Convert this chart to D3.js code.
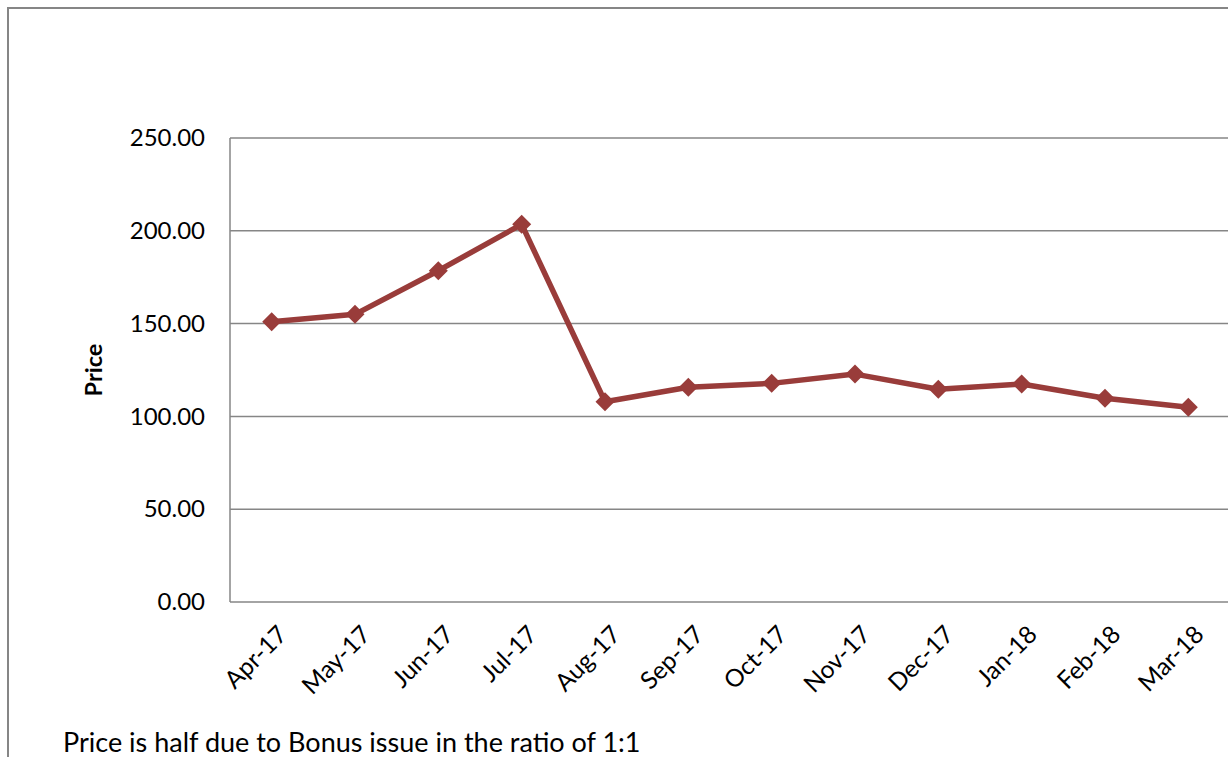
<!DOCTYPE html>
<html>
<head>
<meta charset="utf-8">
<script src="https://cdn.jsdelivr.net/npm/d3@7"></script>
<style>
  body { margin: 0; background: #fff; }
  svg { display: block; font-family: Lato, "Open Sans", sans-serif; }
</style>
</head>
<body>
<svg id="chart" width="1228" height="757"></svg>
<script>
// data
const months = ["Apr-17", "May-17", "Jun-17", "Jul-17", "Aug-17", "Sep-17",
  "Oct-17", "Nov-17", "Dec-17", "Jan-18", "Feb-18", "Mar-18"];
const prices = [151.0, 155.0, 178.5, 203.5, 107.9, 115.7,
  117.8, 122.8, 114.6, 117.5, 109.8, 104.9];
const yTicks = [0, 50, 100, 150, 200, 250];
const note = "Price is half due to Bonus issue in the ratio of 1:1";

const svg = d3.select("#chart");
const grey = "#868686";
const red = "#993c3a";
const font = "Lato, 'Open Sans', sans-serif";

// outer frame (only top and left show)
svg.append("path")
  .attr("d", "M8,757 L8,8 L1228,8")
  .attr("fill", "none")
  .attr("stroke", grey)
  .attr("stroke-width", 2);

let plot = { left: 230, top: 138, right: 1230, bottom: 602 };

let x = d3.scaleBand()
  .domain(months)
  .range([plot.left, plot.right]);

let y = d3.scaleLinear()
  .domain([0, 250])
  .range([plot.bottom, plot.top]);

// gridlines
svg.append("g")
  .selectAll("line")
  .data(yTicks)
  .join("line")
  .attr("x1", plot.left)
  .attr("x2", plot.right)
  .attr("y1", d => y(d))
  .attr("y2", d => y(d))
  .attr("stroke", grey)
  .attr("stroke-width", 1.5);

// y axis line
svg.append("line")
  .attr("x1", plot.left).attr("x2", plot.left)
  .attr("y1", plot.top).attr("y2", plot.bottom)
  .attr("stroke", grey)
  .attr("stroke-width", 1.5);

// y tick labels
let yAxis = d3.axisLeft(y).tickValues(yTicks).tickFormat(d3.format(".2f")).tickSize(0).tickPadding(25);
let gy = svg.append("g").attr("transform", "translate(" + plot.left + ",0)").call(yAxis);
gy.select(".domain").remove();
gy.selectAll("text").attr("font-size", 24).attr("fill", "#000").attr("font-family", font);

// x tick labels, rotated
let xAxis = d3.axisBottom(x).tickSize(0).tickPadding(0);
let gx = svg.append("g").attr("transform", "translate(0," + plot.bottom + ")").call(xAxis);
gx.select(".domain").remove();
gx.selectAll("text")
  .attr("font-size", 24.5)
  .attr("fill", "#000")
  .attr("font-family", font)
  .attr("text-anchor", "end")
  .attr("dy", "0")
  .attr("y", 0)
  .attr("transform", "translate(17,34) rotate(-45)");

// axis title
svg.append("text")
  .attr("transform", "translate(102," + (plot.top + plot.bottom) / 2 + ") rotate(-90)")
  .attr("text-anchor", "middle")
  .attr("font-size", 23.5)
  .attr("font-weight", "bold")
  .attr("font-family", font)
  .text("Price");

// line
let line = d3.line()
  .x((d, i) => x(months[i]) + x.bandwidth() / 2)
  .y(d => y(d));

svg.append("path")
  .datum(prices)
  .attr("d", line)
  .attr("fill", "none")
  .attr("stroke", red)
  .attr("stroke-width", 5.5)
  .attr("stroke-linejoin", "round");

// diamond markers
svg.append("g")
  .selectAll("path")
  .data(prices)
  .join("path")
  .attr("d", d3.symbol().type(d3.symbolDiamond2).size(230))
  .attr("transform", (d, i) => "translate(" + (x(months[i]) + x.bandwidth() / 2) + "," + y(d) + ")")
  .attr("fill", red);

// footnote
svg.append("text")
  .attr("x", 63)
  .attr("y", 752)
  .attr("font-size", 27)
  .attr("fill", "#000")
  .attr("font-family", font)
  .text(note);
</script>
</body>
</html>
